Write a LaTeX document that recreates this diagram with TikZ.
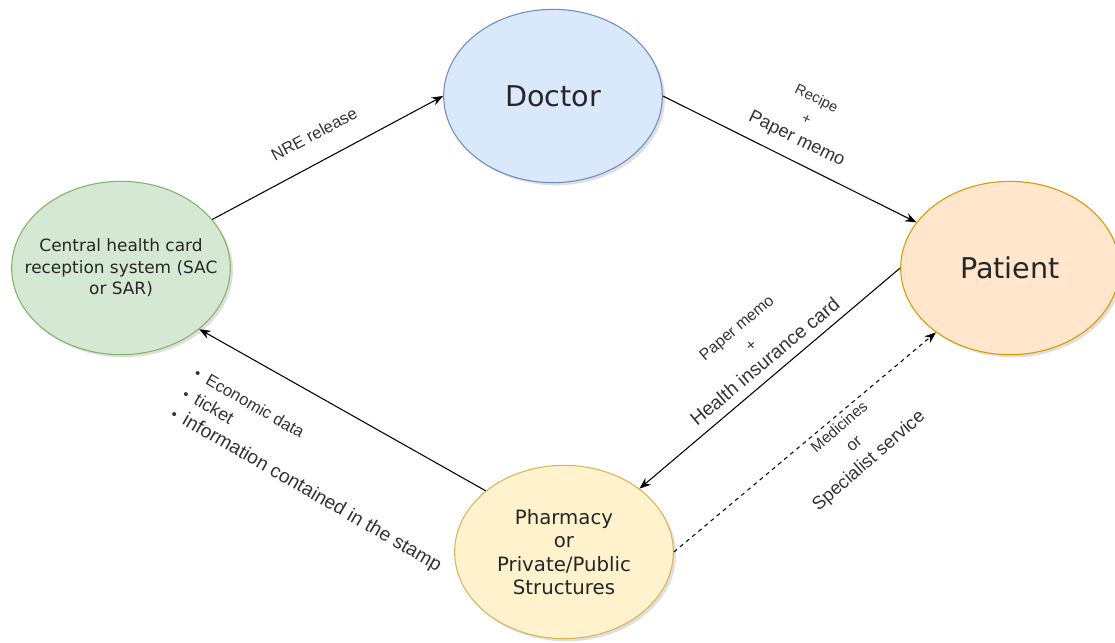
\documentclass[tikz,border=0pt]{standalone}
\usepackage{fontspec}
\setmainfont{Liberation Sans}
\newfontfamily\boxfont{DejaVu Sans}
\usetikzlibrary{arrows.meta}
\usetikzlibrary{shapes.geometric}
\usetikzlibrary{shadows}
\definecolor{docfill}{HTML}{DAE8FC}
\definecolor{docline}{HTML}{6C8EBF}
\definecolor{patfill}{HTML}{FFE6CC}
\definecolor{patline}{HTML}{D79B00}
\definecolor{cenfill}{HTML}{D5E8D4}
\definecolor{cenline}{HTML}{82B366}
\definecolor{phafill}{HTML}{FFF2CC}
\definecolor{phaline}{HTML}{D6B656}

\begin{document}
\begin{tikzpicture}[x=0.75pt, y=-0.75pt, >={Stealth[length=8.5pt,width=6.5pt]},
        Entity/.style 2 args={ellipse, draw=#2, fill=#1, line width=0.8pt, minimum width=164pt, minimum height=130pt, inner sep=0pt, align=center, text=black!85, drop shadow={opacity=0.25, shadow xshift=2pt, shadow yshift=-2pt}},
        Lbl/.style={align=center, inner sep=0pt, text=black!80, font=\fontsize{11}{17}\selectfont}]
        \useasboundingbox (0,0) rectangle (1115,643);

        \node[Entity={docfill}{docline}, font=\boxfont\fontsize{21.5}{26}\selectfont] (doctor) at (553,96) {Doctor};
        \node[Entity={patfill}{patline}, font=\boxfont\fontsize{21.5}{26}\selectfont] (patient) at (1010,268) {Patient};
        \node[Entity={cenfill}{cenline}, inner xsep=-18pt, font=\boxfont\fontsize{12.7}{16}\selectfont] (central) at (121,268) {Central health card\\reception system (SAC\\or SAR)};
        \node[Entity={phafill}{phaline}, font=\boxfont\fontsize{14.8}{17.6}\selectfont] (pharmacy) at (564,552) {Pharmacy\\or\\Private/Public\\Structures};

        \draw[->, line width=0.8pt] (central.28) -- (doctor.west);
        \draw[->, line width=0.8pt] (doctor.east) -- (patient.154);
        \draw[->, line width=0.8pt] (patient.west) -- (pharmacy.40);
        \draw[->, line width=0.8pt, dash pattern=on 3pt off 3pt] (pharmacy.east) -- (patient.221);
        \draw[->, line width=0.8pt] (pharmacy.142) -- (central.-38);

        \node[Lbl, rotate=28, font=\fontsize{12.5}{15}\selectfont] (nre) at (314,134) {NRE release};
        \node[Lbl, rotate=-26] (recipe) at (806,120) {Recipe\\+\\\fontsize{13.7}{17}\selectfont Paper memo};
        \node[Lbl, rotate=40] (card) at (751,345) {\fontsize{12}{17}\selectfont Paper memo\\\fontsize{12}{17}\selectfont +\\\fontsize{14.5}{17}\selectfont Health insurance card};
        \node[Lbl, rotate=41] (medicines) at (855,445) {\fontsize{11.5}{17}\selectfont Medicines\\\fontsize{12.5}{17}\selectfont or\\\fontsize{13.8}{17}\selectfont Specialist service};
        \node[Lbl, align=left, anchor=north west, rotate=-30, font=\fontsize{11}{17.5}\selectfont] (data) at (199,366) {%
                \makebox[10pt][l]{\textbullet}\fontsize{12.5}{17.5}\selectfont Economic data\\
                \makebox[10pt][l]{\textbullet}\fontsize{13.5}{17.5}\selectfont ticket\\
                \makebox[10pt][l]{\textbullet}\fontsize{14.5}{17.5}\selectfont information contained in the stamp};
\end{tikzpicture}
\end{document}
